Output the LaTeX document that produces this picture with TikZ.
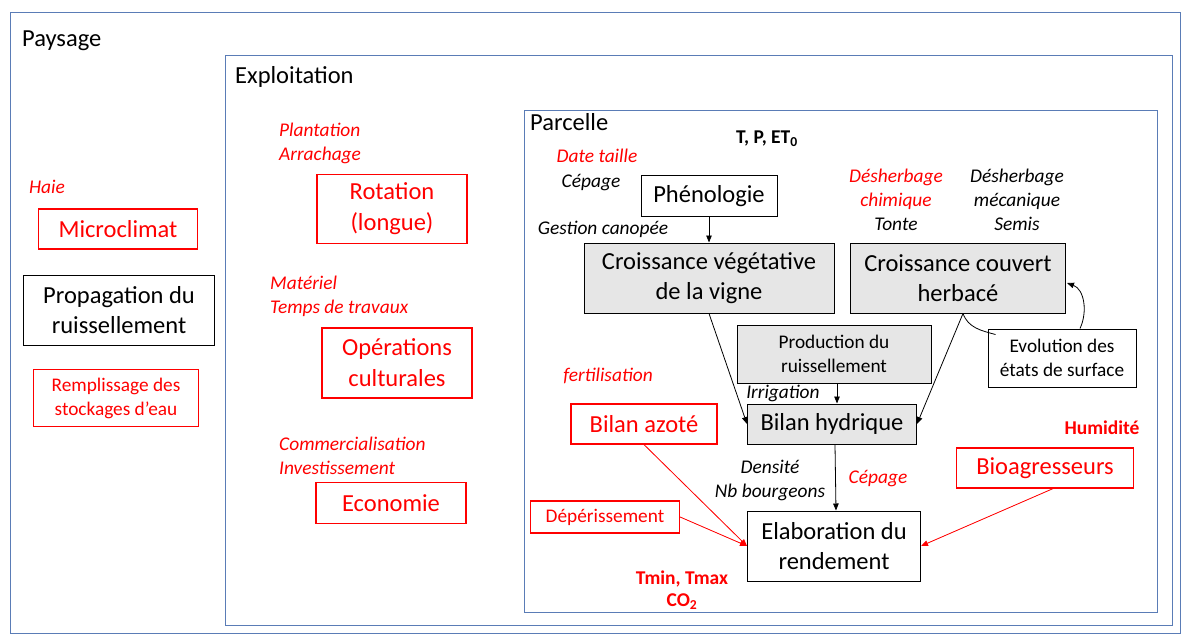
\documentclass[tikz,border=0pt]{standalone}
\usepackage{fontspec}
\setmainfont{Carlito}
\usepackage{xcolor}
\usetikzlibrary{positioning, arrows.meta, calc}
\definecolor{frameblue}{RGB}{90,124,182}
\definecolor{boxgray}{RGB}{230,230,230}

\begin{document}
\begin{tikzpicture}[
    x=1pt, y=-1pt,
    zone/.style={draw=frameblue, line width=1pt},
    zonetitle/.style={anchor=west, inner sep=0pt, font=\fontsize{24.5}{28}\selectfont},
    plainbox/.style={draw, line width=1pt, fill=white, align=center, inner sep=0pt, font=\fontsize{24.5}{30}\selectfont},
    processbox/.style={plainbox, fill=boxgray},
    redbox/.style={draw=red, line width=1.2pt, align=center, inner sep=0pt, text=red, font=\fontsize{24.5}{31}\selectfont},
    smalltext/.style={font=\fontsize{19.3}{24}\selectfont},
    factor/.style={align=center, inner sep=0pt, font=\fontsize{19.4}{24}\selectfont\itshape},
    redfactor/.style={factor, text=red},
    climate/.style={align=center, inner sep=0pt, font=\fontsize{19.5}{22}\selectfont\bfseries},
    arr/.style={-{Triangle[length=7pt,width=5.5pt]}, line width=0.8pt},
    redarr/.style={arr, draw=red, fill=red}
]
    \useasboundingbox (0,0) rectangle (1184,637);

    % ================= ZONES =================
    \draw[zone] (10,12) rectangle (1180,633);
    \draw[zone] (225,55) rectangle (1172,625);
    \draw[zone] (524,110) rectangle (1157,612);
    \node[zonetitle] (t_pays) at (22,41) {Paysage};
    \node[zonetitle] (t_expl) at (235,77) {Exploitation};
    \node[zonetitle] (t_parc) at (530,122) {Parcelle};

    % ================= PAYSAGE =================
    \node[redfactor] (haie) at (47,187) {Haie};
    \node[redbox, minimum width=159pt, minimum height=40pt] (MICRO) at (118,229) {Microclimat};
    \node[plainbox, minimum width=191pt, minimum height=70pt] (PROPAG) at (119,310) {Propagation du\\ruissellement};
    \node[redbox, smalltext, minimum width=165pt, minimum height=57pt] (REMPL) at (116,398) {Remplissage des\\stockages d’eau};

    % ================= EXPLOITATION =================
    \node[redfactor, anchor=west, align=left] (plant) at (279,143) {Plantation\\Arrachage};
    \node[redbox, minimum width=150pt, minimum height=69pt] (ROT) at (392,209) {Rotation\\(longue)};
    \node[redfactor, anchor=west, align=left] (mat) at (270,296) {Matériel\\Temps de travaux};
    \node[redbox, minimum width=150pt, minimum height=70pt] (OPER) at (397,363) {Opérations\\culturales};
    \node[redfactor, anchor=west, align=left] (comm) at (279,456) {Commercialisation\\Investissement};
    \node[redbox, minimum width=150pt, minimum height=41pt] (ECO) at (391,503) {Economie};

    % ================= PARCELLE : BOXES =================
    \node[plainbox, minimum width=136pt, minimum height=41pt] (PHENO) at (709,196) {Phénologie};
    \node[processbox, minimum width=250pt, minimum height=70pt] (CVEG) at (709,278) {Croissance végétative\\de la vigne};
    \node[processbox, minimum width=215pt, minimum height=70pt] (CCOUV) at (958,278) {Croissance couvert\\herbacé};
    \node[processbox, smalltext, minimum width=194pt, minimum height=58pt] (PROD) at (834,354) {Production du\\ruissellement};
    \node[plainbox, smalltext, minimum width=148pt, minimum height=58pt] (EVOL) at (1062,358) {Evolution des\\états de surface};
    \node[processbox, minimum width=169pt, minimum height=40pt] (BHYD) at (832,424) {Bilan hydrique};
    \node[redbox, minimum width=146pt, minimum height=40pt] (BAZOT) at (644,424) {Bilan azoté};
    \node[redbox, minimum width=177pt, minimum height=40pt] (BIOAG) at (1045,468) {Bioagresseurs};
    \node[redbox, smalltext, minimum width=149pt, minimum height=32pt] (DEPER) at (605,517) {Dépérissement};
    \node[plainbox, minimum width=173pt, minimum height=70pt] (ELAB) at (834,546) {Elaboration du\\rendement};

    % ================= PARCELLE : FACTORS =================
    \node[climate] (tpet) at (767,139) {T, P, ET\textsubscript{0}};
    \node[redfactor] (taille) at (597,156) {Date taille};
    \node[factor] (cep1) at (591,183) {Cépage};
    \node[factor] (canop) at (603,229) {Gestion canopée};
    \node[redfactor] (desh_chim) at (896,200) {Désherbage\\chimique\\\textcolor{black}{Tonte}};
    \node[factor] (desh_meca) at (1017,200) {Désherbage\\mécanique\\Semis};
    \node[redfactor] (fert) at (608,376) {fertilisation};
    \node[factor] (irrig) at (783,393) {Irrigation};
    \node[factor] (dens) at (770,480) {Densité\\Nb bourgeons};
    \node[redfactor] (cep2) at (878,479) {Cépage};
    \node[climate, text=red] (humid) at (1102,428) {Humidité};
    \node[climate, text=red] (tco2) at (682,590) {Tmin, Tmax\\CO\textsubscript{2}};

    % ================= CONNECTIONS =================
    % water balance chain
    \draw[arr] (PHENO) -- (CVEG);
    \draw[arr] (CVEG.south) -- (BHYD.west);
    \draw[arr] ($(CCOUV.south)+(5,0)$) -- (BHYD.east);
    \draw[arr] ($(PROD.south)+(3,0)$) -- ($(BHYD.north)+(5,0)$);
    \draw[arr] ($(BHYD.south)+(3,0)$) -- ($(ELAB.north)+(2,0)$);

    % cover crop / surface states loop
    \draw[line width=0.8pt] ($(CCOUV.south)+(5,0)$) to[out=-70, in=165] ($(EVOL.north west)+(8,6)$);
    \draw[arr] ($(EVOL.north)+(18,0)$) to[out=65, in=-20] ($(CCOUV.east)+(1,5)$);

    % yield limiting factors
    \draw[redarr] (BAZOT.south) -- (ELAB.west);
    \draw[redarr] (DEPER.east) -- (ELAB.west);
    \draw[redarr] ($(BIOAG.south)+(8,0)$) -- (ELAB.east);

\end{tikzpicture}
\end{document}
